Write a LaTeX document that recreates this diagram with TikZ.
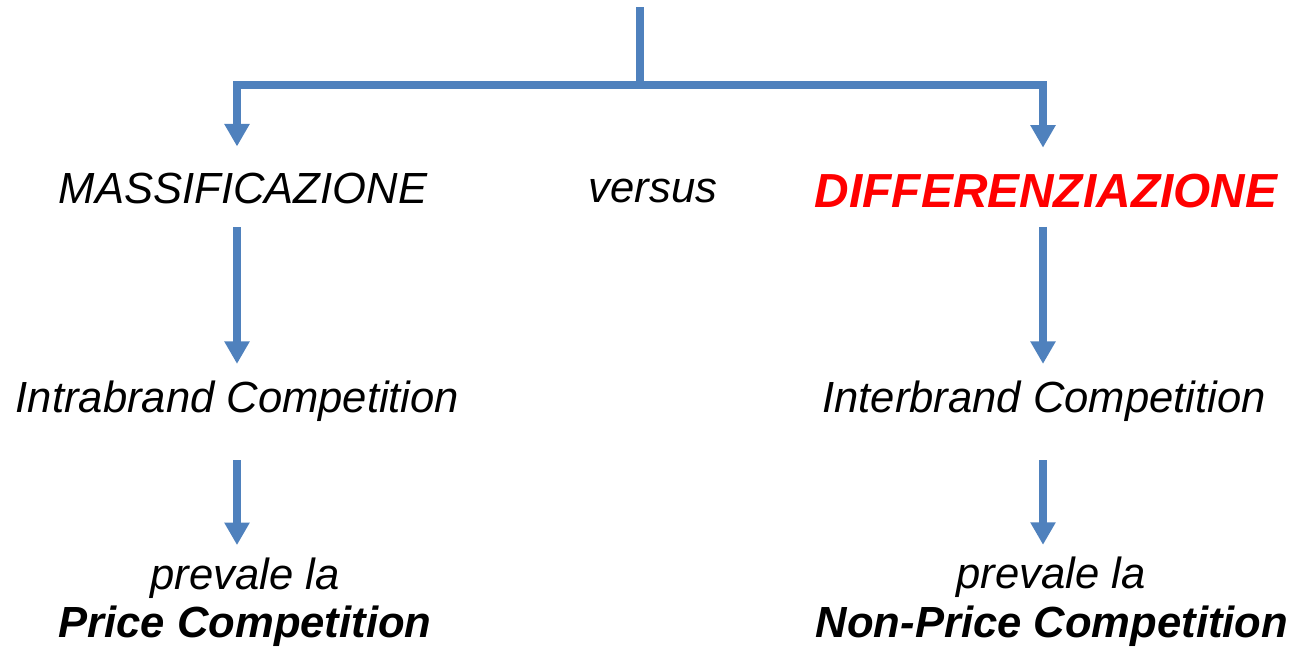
\documentclass[tikz,border=0pt]{standalone}
\usepackage{fontspec}
\setmainfont{Liberation Sans}
\usetikzlibrary{arrows.meta}
\definecolor{flowblue}{HTML}{4F81BD}
\tikzset{
  every picture/.style={
    >={Triangle[width=17pt, length=16pt]}
  },
  flow/.style={
    draw=flowblue, line width=5.5pt
  },
  word/.style={
    font=\fontsize{31}{37}\selectfont\itshape,
    text height=22pt, text depth=6pt,
    inner sep=0pt, anchor=base
  },
  strong/.style={
    word, font=\fontsize{31}{37}\selectfont\bfseries\itshape
  }
}
\begin{document}
\begin{tikzpicture}[
      x=0.025cm, y=-0.025cm
    ]
    \useasboundingbox (0,0) rectangle (1294,652);
    \coordinate (top) at (640,7);
    \coordinate (fork) at (640,85);
    \coordinate (lcol) at (237,0);
    \coordinate (rcol) at (1043,0);
    \node [word] (mass) at (243,203) {MASSIFICAZIONE};
    \node [word] (vs) at (653,202) {versus};
    \node [strong, red, font=\fontsize{34}{40}\selectfont\bfseries\itshape] (diff) at (1046,207) {DIFFERENZIAZIONE};
    \node [word] (intra) at (237.5,412) {Intrabrand Competition};
    \node [word] (inter) at (1044,412) {Interbrand Competition};
    \node [word] (prevl) at (245,589) {prevale la};
    \node [word] (prevr) at (1051,588) {prevale la};
    \node [strong] (pricel) at (245,637) {Price Competition};
    \node [strong] (pricer) at (1052,637) {Non-Price Competition};
    % branching from the top
    \draw [flow] (top) -- (fork);
    \draw [flow,->,shorten >=18pt] (fork) -| (lcol |- mass.north);
    \draw [flow,->,shorten >=20pt] (fork) -| (rcol |- diff.north);
    % left column
    \draw [flow,->,shorten <=11pt,shorten >=12pt] (lcol |- mass.south) -- (lcol |- intra.north);
    \draw [flow,->,shorten <=28pt,shorten >=9pt] (lcol |- intra.south) -- (lcol |- prevl.north);
    % right column
    \draw [flow,->,shorten <=8pt,shorten >=12pt] (rcol |- diff.south) -- (rcol |- inter.north);
    \draw [flow,->,shorten <=28pt,shorten >=8.5pt] (rcol |- inter.south) -- (rcol |- prevr.north);
  \end{tikzpicture}
\end{document}
